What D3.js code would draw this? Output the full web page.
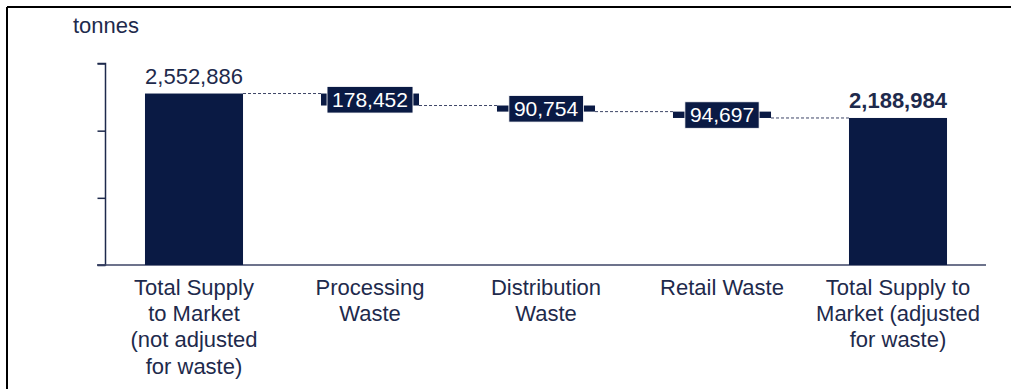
<!DOCTYPE html>
<html>
<head>
<meta charset="utf-8">
<script src="https://cdn.jsdelivr.net/npm/d3@7"></script>
<style>
  html, body { margin: 0; padding: 0; background: #fff; }
  svg { display: block; }
  text { font-family: "Liberation Sans", Arial, sans-serif; }
</style>
</head>
<body>
<svg id="chart" width="1011" height="389"></svg>
<script>
// Waterfall of food supply to market, net of waste at each stage
const categories = [
  ["Total Supply", "to Market", "(not adjusted", "for waste)"],
  ["Processing", "Waste"],
  ["Distribution", "Waste"],
  ["Retail Waste"],
  ["Total Supply to", "Market (adjusted", "for waste)"]
];
const kinds = ["total", "loss", "loss", "loss", "total"];
const values = [2552886, 178452, 90754, 94697, 2188984];
const yTicks = [0, 1000000, 2000000, 3000000];
const unitLabel = "tonnes";

const navy = "#0a1a44";
const textColor = "#1e2a4c";
const fontSize = 22;

const svg = d3.select("#chart");
const W = 1011, H = 389;

// frame
svg.append("line").attr("x1", 7).attr("x2", W).attr("y1", 7).attr("y2", 7)
  .attr("stroke", "#000").attr("stroke-width", 2);
svg.append("line").attr("x1", 7).attr("x2", 7).attr("y1", 7).attr("y2", H)
  .attr("stroke", "#000").attr("stroke-width", 2);

const x = d3.scaleBand().domain(d3.range(categories.length))
  .range([106, 986]).paddingInner(0.443).paddingOuter(0.2215);
const y = d3.scaleLinear().domain([0, 3000000]).range([265, 63.5]);

// floating segments
let running = 0;
const segs = values.map((v, i) => {
  if (kinds[i] === "total") {
    running = v;
    return { i, v, top: v, bottom: 0, kind: "total" };
  }
  const s = { i, v, top: running, bottom: running - v, kind: "loss" };
  running -= v;
  return s;
});

// y axis (no tick labels)
const yAxis = d3.axisLeft(y).tickValues(yTicks).tickSize(8).tickFormat("");
const gy = svg.append("g").attr("transform", "translate(105.5,0)").call(yAxis);
gy.select(".domain").attr("stroke", textColor).attr("stroke-width", 1.5)
  .attr("d", "M-8,63.5H0V265H-8");
gy.selectAll(".tick line").attr("stroke", textColor).attr("stroke-width", 1.5);

// baseline
svg.append("line").attr("x1", 97).attr("x2", 986)
  .attr("y1", y(0)).attr("y2", y(0))
  .attr("stroke", "#3d4566").attr("stroke-width", 1.5);

// dashed connectors
for (let k = 0; k < segs.length - 1; k++) {
  const level = (segs[k].kind === "total") ? segs[k].top : segs[k].bottom;
  svg.append("line")
    .attr("x1", x(k) + x.bandwidth()).attr("x2", x(k + 1))
    .attr("y1", y(level)).attr("y2", y(level))
    .attr("stroke", "#3d4566").attr("stroke-width", 1)
    .attr("stroke-dasharray", "3,2");
}

// bars
svg.selectAll("rect.bar").data(segs).enter().append("rect")
  .attr("class", "bar")
  .attr("x", d => x(d.i))
  .attr("width", x.bandwidth())
  .attr("y", d => y(d.top))
  .attr("height", d => y(d.bottom) - y(d.top))
  .attr("fill", navy);

const fmt = d3.format(",");

// totals labelled above their bars
segs.filter(d => d.kind === "total").forEach((d, n) => {
  svg.append("text")
    .attr("x", x(d.i) + x.bandwidth() / 2)
    .attr("y", y(d.top) - 10)
    .attr("text-anchor", "middle")
    .attr("font-size", fontSize)
    .attr("font-weight", n === 1 ? "bold" : "normal")
    .attr("fill", textColor)
    .text(fmt(d.v));
});

// boxed labels on the loss segments
segs.filter(d => d.kind === "loss").forEach(d => {
  const cx = x(d.i) + x.bandwidth() / 2;
  const cy = (y(d.top) + y(d.bottom)) / 2;
  const t = svg.append("text")
    .attr("x", cx).attr("y", cy + 7.5)
    .attr("text-anchor", "middle")
    .attr("font-size", 21)
    .attr("fill", "#fff")
    .text(fmt(d.v));
  const bb = t.node().getBBox();
  svg.insert("rect", () => t.node())
    .attr("x", bb.x - 5).attr("width", bb.width + 10)
    .attr("y", cy - 13).attr("height", 26.5)
    .attr("fill", navy).attr("stroke", "#fff").attr("stroke-width", 0.8);
});

// category labels
categories.forEach((lines, i) => {
  const t = svg.append("text")
    .attr("x", x(i) + x.bandwidth() / 2)
    .attr("y", 295)
    .attr("text-anchor", "middle")
    .attr("font-size", fontSize)
    .attr("fill", textColor);
  lines.forEach((ln, j) => {
    t.append("tspan").attr("x", x(i) + x.bandwidth() / 2)
      .attr("dy", j === 0 ? 0 : 26.2).text(ln);
  });
});

// unit label
svg.append("text").attr("x", 73).attr("y", 33)
  .attr("font-size", fontSize).attr("fill", textColor).text(unitLabel);
</script>
</body>
</html>
